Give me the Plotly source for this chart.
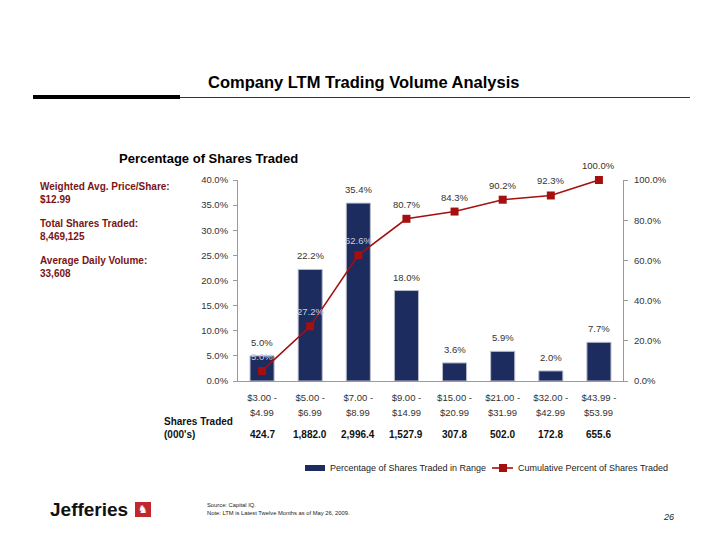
import plotly.graph_objects as go

# ---- data ----
range_low = ["$3.00", "$5.00", "$7.00", "$9.00", "$15.00", "$21.00", "$32.00", "$43.99"]
range_high = ["$4.99", "$6.99", "$8.99", "$14.99", "$20.99", "$31.99", "$42.99", "$53.99"]
pct_in_range = [5.0, 22.2, 35.4, 18.0, 3.6, 5.9, 2.0, 7.7]
cumulative_pct = [5.0, 27.2, 62.6, 80.7, 84.3, 90.2, 92.3, 100.0]
shares_traded = ["424.7", "1,882.0", "2,996.4", "1,527.9", "307.8", "502.0", "172.8", "655.6"]
left_ticks = [0, 5, 10, 15, 20, 25, 30, 35, 40]
right_ticks = [0, 20, 40, 60, 80, 100]

W, H = 720, 556
L, R, T, B = 238, 623, 180, 381
FONT = "Liberation Sans, Arial, sans-serif"
NAVY = "#1c2c5e"
RED = "#a50f0f"
DARKRED = "#7a1416"
GRAY = "#9a9a9a"
TXT = "#333333"


def px(x):
    return (x - L) / (R - L)


def py(y):
    return (B - y) / (B - T)


n = len(range_low)
xs = list(range(n))

fig = go.Figure()
fig.add_trace(go.Bar(x=xs, y=pct_in_range, marker=dict(color=NAVY, line=dict(color="#b9bccb", width=1)),
                     width=0.5, showlegend=False, hoverinfo="skip"))
fig.add_trace(go.Scatter(x=xs, y=cumulative_pct, yaxis="y2", mode="lines+markers",
                         line=dict(color=RED, width=1.6), marker=dict(symbol="square", size=8, color=RED),
                         showlegend=False, cliponaxis=False, hoverinfo="skip"))

annotations = []


def note(x, y, text, size, color=TXT, xanchor="center", yanchor="middle", align="center", family=FONT,
         xref="paper", yref="paper", yshift=0):
    annotations.append(dict(x=x, y=y, xref=xref, yref=yref, text=text, showarrow=False, xanchor=xanchor,
                            yanchor=yanchor, align=align, yshift=yshift,
                            font=dict(family=family, size=size, color=color)))


# bar labels
for i, v in enumerate(pct_in_range):
    note(i, v, f"{v:.1f}%", 9.5, xref="x", yref="y", yanchor="bottom", yshift=6)
# cumulative labels
for i, v in enumerate(cumulative_pct):
    col = "#c9cde0" if i < 3 else TXT
    note(i, v, f"{v:.1f}%", 9.5, color=col, xref="x", yref="y2", yanchor="bottom", yshift=7)
# second line of category labels
for i, s in enumerate(range_high):
    note(i, py(412), s, 9.5, xref="x")
# shares traded row
for i, s in enumerate(shares_traded):
    note(i, py(434), f"<b>{s}</b>", 10, color="#111111", xref="x")
note(px(162), py(428), "<b>Shares Traded<br>(000's)</b>", 10, color="#111111", xanchor="left", align="left")

# titles
note(px(363), py(82), "<b>Company LTM Trading Volume Analysis</b>", 16.5, color="#000000")
note(px(208), py(158), "<b>Percentage of Shares Traded</b>", 13, color="#000000")

# left side stats
for txt, yy in [("Weighted Avg. Price/Share:<br>$12.99", 193), ("Total Shares Traded:<br>8,469,125", 230),
                ("Average Daily Volume:<br>33,608", 267)]:
    note(px(38), py(yy), f"<b>{txt}</b>", 10, color=DARKRED, xanchor="left", align="left")

# legend text
note(px(328), py(468), "Percentage of Shares Traded in Range", 9, color="#222222", xanchor="left")
note(px(516), py(468), "Cumulative Percent of Shares Traded", 9, color="#222222", xanchor="left")

# footer
note(px(48), py(509), "<b>Jefferies</b>", 19, color="#111111", xanchor="left")
note(px(143), py(509.5), "♞", 11, color="#ffffff", family="DejaVu Sans")
note(px(205), py(509), "Source: Capital IQ.<br>Note: LTM is Latest Twelve Months as of May 26, 2009.", 5.8,
     color="#222222", xanchor="left", align="left")
note(px(668), py(517), "<i>26</i>", 9, color="#222222")

shapes = [
    dict(type="line", xref="paper", yref="paper", x0=px(33), x1=px(180), y0=py(97), y1=py(97), line=dict(color="#000000", width=4)),
    dict(type="line", xref="paper", yref="paper", x0=px(180), x1=px(690), y0=py(97.5), y1=py(97.5), line=dict(color="#333333", width=1)),
    dict(type="rect", xref="paper", yref="paper", x0=px(305), x1=px(325), y0=py(471), y1=py(465), fillcolor=NAVY, line=dict(width=0)),
    dict(type="line", xref="paper", yref="paper", x0=px(492), x1=px(513), y0=py(468), y1=py(468), line=dict(color=RED, width=1.6)),
    dict(type="rect", xref="paper", yref="paper", x0=px(499), x1=px(507), y0=py(472), y1=py(464), fillcolor=RED, line=dict(width=0)),
    dict(type="rect", xref="paper", yref="paper", x0=px(135), x1=px(151), y0=py(517), y1=py(502), fillcolor="#c1272d", line=dict(width=0)),
]

fig.update_layout(
    width=W, height=H, paper_bgcolor="white", plot_bgcolor="white",
    margin=dict(l=L, r=W - R, t=T, b=H - B, pad=0, autoexpand=False),
    font=dict(family=FONT, size=10, color=TXT),
    xaxis=dict(range=[-0.5, n - 0.5], tickvals=xs, ticktext=[f"{s} -" for s in range_low],
               showline=True, linecolor=GRAY, linewidth=1, ticks="", showgrid=False, zeroline=False,
               tickfont=dict(family=FONT, size=9.5, color=TXT), ticklabelstandoff=8, fixedrange=True),
    yaxis=dict(range=[0, 40], tickvals=left_ticks, ticktext=[f"{t:.1f}%" for t in left_ticks],
               showline=True, linecolor=GRAY, linewidth=1, ticks="outside", ticklen=4, tickcolor=GRAY,
               showgrid=False, zeroline=False, tickfont=dict(family=FONT, size=9.5, color=TXT), ticklabelstandoff=3),
    yaxis2=dict(range=[0, 100], overlaying="y", side="right", tickvals=right_ticks,
                ticktext=[f"{t:.1f}%" for t in right_ticks], showline=True, linecolor=GRAY, linewidth=1,
                ticks="outside", ticklen=4, tickcolor=GRAY, showgrid=False, zeroline=False,
                tickfont=dict(family=FONT, size=9.5, color=TXT), ticklabelstandoff=4),
    annotations=annotations, shapes=shapes, showlegend=False,
)

fig.write_html("out.html", post_script="document.body.style.margin='0px';",
               config={"displayModeBar": False})
